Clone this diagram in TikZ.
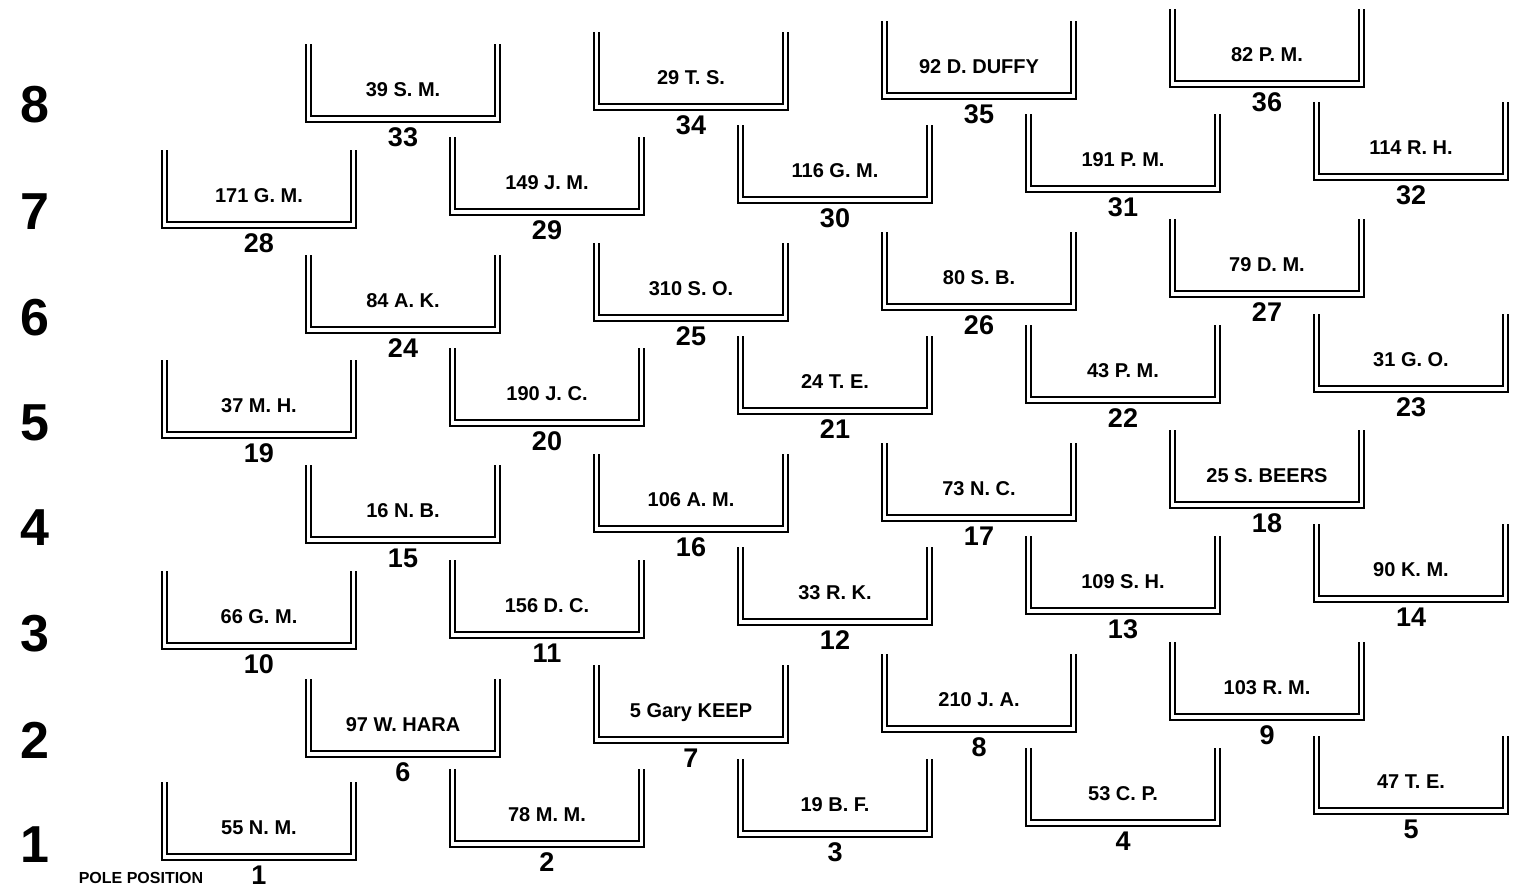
\documentclass[tikz,border=0pt]{standalone}
\usepackage{fontspec}
\setmainfont{Liberation Sans}
\usetikzlibrary{positioning}

\begin{document}
\begin{tikzpicture}[
    x=1pt, y=-1pt,
    driver/.style={font=\fontsize{20}{24}\selectfont\bfseries, inner sep=0pt, anchor=base},
    gridno/.style={font=\fontsize{27}{30}\selectfont\bfseries, inner sep=0pt},
    rowno/.style={font=\fontsize{52}{56}\selectfont\bfseries, inner sep=0pt},
    inwall/.style={line width=2.8pt, line join=miter},
    outwall/.style={line width=1.9pt, line join=miter}
]
\useasboundingbox (0,0) rectangle (1518,889);

\foreach \r/\y in {1/845, 2/740, 3/634, 4/528, 5/423, 6/318, 7/212, 8/105}
    \node[rowno] (row\r) at (35,\y) {\r};

\node[font=\fontsize{16}{18}\selectfont\bfseries, inner sep=0pt] (pole) at (141,878) {POLE POSITION};

\foreach \n/\c/\y/\d in {
    1/0/875/55 N. M., 2/2/862/78 M. M., 3/4/852/19 B. F., 4/6/841/53 C. P., 5/8/829/47 T. E.,
    6/1/772/97 W. HARA, 7/3/758/5 Gary KEEP, 8/5/747/210 J. A., 9/7/735/103 R. M.,
    10/0/664/66 G. M., 11/2/653/156 D. C., 12/4/640/33 R. K., 13/6/629/109 S. H., 14/8/617/90 K. M.,
    15/1/558/16 N. B., 16/3/547/106 A. M., 17/5/536/73 N. C., 18/7/523/25 S. BEERS,
    19/0/453/37 M. H., 20/2/441/190 J. C., 21/4/429/24 T. E., 22/6/418/43 P. M., 23/8/407/31 G. O.,
    24/1/348/84 A. K., 25/3/336/310 S. O., 26/5/325/80 S. B., 27/7/312/79 D. M.,
    28/0/243/171 G. M., 29/2/230/149 J. M., 30/4/218/116 G. M., 31/6/207/191 P. M., 32/8/195/114 R. H.,
    33/1/137/39 S. M., 34/3/125/29 T. S., 35/5/114/92 D. DUFFY, 36/7/102/82 P. M.} {
    \pgfmathsetmacro\xc{259+144*\c}
    \begin{scope}[shift={(\xc,\y)}]
        \node[gridno] (num\n) at (0,0) {\n};
        \node[driver] (drv\n) at (0,-41) {\d};
        \draw[inwall] (-92,-93) |- (92,-21) -- (92,-93);
        \draw[outwall] (-97,-93) |- (97,-15) -- (97,-93);
    \end{scope}
}
\end{tikzpicture}
\end{document}
